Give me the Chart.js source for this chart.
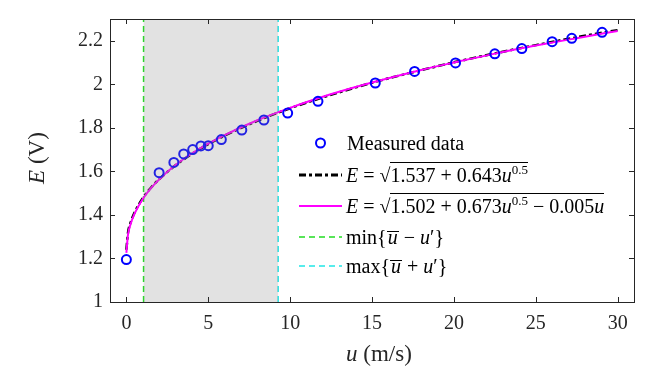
<!DOCTYPE html>
<html>
<head>
<meta charset="utf-8">
<script src="https://cdn.jsdelivr.net/npm/chart.js@4"></script>
<style>
  body { margin: 0; background: #fff; }
  #wrap { position: relative; width: 665px; height: 388px; font-family: "Liberation Serif", serif; color: #000; }
  #chart { position: absolute; left: 0; top: 0; }
  .lbl { position: absolute; white-space: nowrap; font-size: 20px; line-height: 20px; }
  .ax { position: absolute; white-space: nowrap; font-size: 23px; line-height: 23px; color: #262626; }
  .rad { border-top: 1px solid #000; padding-top: 1px; }
  .ov { display: inline-block; border-top: 1px solid #000; line-height: 11px; padding: 0 1px; }
  sup { font-size: 13px; line-height: 0; vertical-align: 8px; }
</style>
</head>
<body>
<div id="wrap">
  <canvas id="chart" width="665" height="388"></canvas>

  <div class="ax" style="left: 346px; top: 342px;"><i>u</i> (m/s)</div>
  <div class="ax" style="left: 36px; top: 158px; transform: translate(-50%, -50%) rotate(-90deg);"><i>E</i> (V)</div>

  <svg style="position:absolute; left:0; top:0;" width="665" height="388">
    <circle cx="320.5" cy="143" r="4.5" fill="none" stroke="#0000ff" stroke-width="2"/>
    <line x1="299" y1="175" x2="342" y2="175" stroke="#000" stroke-width="3" stroke-dasharray="7 3 3 3"/>
    <line x1="299" y1="206" x2="342" y2="206" stroke="#ff00ff" stroke-width="2"/>
    <line x1="299" y1="237" x2="342" y2="237" stroke="#22dd22" stroke-width="1.5" stroke-dasharray="6 4"/>
    <line x1="299" y1="266" x2="342" y2="266" stroke="#22e6e6" stroke-width="1.5" stroke-dasharray="6 4"/>
  </svg>
  <div class="lbl" style="left: 347px; top: 133px;">Measured data</div>
  <div class="lbl" style="left: 346px; top: 165px;"><i>E</i> = √<span class="rad">1.537 + 0.643<i>u</i><sup>0.5</sup></span></div>
  <div class="lbl" style="left: 346px; top: 196px;"><i>E</i> = √<span class="rad">1.502 + 0.673<i>u</i><sup>0.5</sup> − 0.005<i>u</i></span></div>
  <div class="lbl" style="left: 346px; top: 227px;">min{<i class="ov">u</i> − <i>u</i>′}</div>
  <div class="lbl" style="left: 346px; top: 256px;">max{<i class="ov">u</i> + <i>u</i>′}</div>
</div>

<script>
// measured points
const measuredU = [0, 2.0, 2.9, 3.5, 4.05, 4.55, 5.0, 5.8, 7.05, 8.4, 9.85, 11.7, 15.2, 17.6, 20.1, 22.5, 24.15, 26.0, 27.2, 29.05];
const measuredE = [1.195, 1.594, 1.641, 1.680, 1.700, 1.717, 1.718, 1.746, 1.790, 1.836, 1.868, 1.922, 2.006, 2.059, 2.098, 2.140, 2.164, 2.196, 2.211, 2.239];

const fitU = [0, 0.1, 0.25, 0.5, 1, 1.5, 2, 3, 4, 5, 6, 8, 10, 12, 15, 18, 20, 22.5, 25, 27.5, 30];
const fitE1 = [1.240, 1.319, 1.363, 1.411, 1.477, 1.525, 1.564, 1.628, 1.680, 1.725, 1.764, 1.832, 1.890, 1.940, 2.007, 2.065, 2.101, 2.142, 2.180, 2.216, 2.249];
const fitE2 = [1.226, 1.309, 1.356, 1.406, 1.473, 1.523, 1.563, 1.629, 1.682, 1.727, 1.767, 1.835, 1.892, 1.943, 2.008, 2.066, 2.100, 2.141, 2.178, 2.212, 2.245];

// fluctuation range
const uLow = 1.05;
const uHigh = 9.27;

const xTicks = [0, 5, 10, 15, 20, 25, 30];
const yTicks = [1, 1.2, 1.4, 1.6, 1.8, 2, 2.2];

const axisColor = '#262626';
const tickFont = { family: "'Liberation Serif', serif", size: 20 };

function pts(xs, ys) {
    return xs.map((x, i) => ({ x: x, y: ys[i] }));
}

const shadePlugin = {
    id: 'shade',
    afterDatasetsDraw(chart) {
        const { ctx, chartArea, scales } = chart;
        const x0 = scales.x.getPixelForValue(uLow);
        const x1 = scales.x.getPixelForValue(uHigh);
        ctx.save();
        ctx.fillStyle = 'rgba(140,140,140,0.25)';
        ctx.fillRect(x0, chartArea.top, x1 - x0, chartArea.bottom - chartArea.top);
        ctx.restore();
    }
};

// matlab style box with inward ticks
const boxPlugin = {
    id: 'box',
    afterDraw(chart) {
        const { ctx, chartArea: a, scales } = chart;
        const len = 5;
        ctx.save();
        ctx.strokeStyle = axisColor;
        ctx.lineWidth = 1;
        ctx.strokeRect(a.left + 0.5, a.top + 0.5, a.right - a.left, a.bottom - a.top);
        ctx.beginPath();
        xTicks.forEach(v => {
            const px = Math.round(scales.x.getPixelForValue(v)) + 0.5;
            ctx.moveTo(px, a.bottom); ctx.lineTo(px, a.bottom - len);
            ctx.moveTo(px, a.top); ctx.lineTo(px, a.top + len);
        });
        yTicks.forEach(v => {
            const py = Math.round(scales.y.getPixelForValue(v)) + 0.5;
            ctx.moveTo(a.left, py); ctx.lineTo(a.left + len, py);
            ctx.moveTo(a.right, py); ctx.lineTo(a.right - len, py);
        });
        ctx.stroke();
        ctx.restore();
    }
};

new Chart(document.getElementById('chart').getContext('2d'), {
    type: 'scatter',
    data: {
        datasets: [
            {
                label: 'Measured data',
                data: pts(measuredU, measuredE),
                pointStyle: 'circle',
                pointRadius: 4.5,
                pointBorderWidth: 2,
                borderColor: '#0000ff',
                backgroundColor: 'rgba(0,0,0,0)',
                order: 0
            },
            {
                label: 'fit2',
                data: pts(fitU, fitE2),
                showLine: true,
                borderColor: '#ff00ff',
                borderWidth: 2,
                pointRadius: 0,
                cubicInterpolationMode: 'monotone',
                order: 1
            },
            {
                label: 'fit1',
                data: pts(fitU, fitE1),
                showLine: true,
                borderColor: '#000',
                borderWidth: 2.5,
                borderDash: [7, 3, 3, 3],
                pointRadius: 0,
                cubicInterpolationMode: 'monotone',
                order: 2
            },
            {
                label: 'min',
                data: [{ x: uLow, y: 1 }, { x: uLow, y: 2.3 }],
                showLine: true,
                borderColor: '#22dd22',
                borderWidth: 1.5,
                borderDash: [6, 4],
                pointRadius: 0,
                order: 3
            },
            {
                label: 'max',
                data: [{ x: uHigh, y: 1 }, { x: uHigh, y: 2.3 }],
                showLine: true,
                borderColor: '#22e6e6',
                borderWidth: 1.5,
                borderDash: [6, 4],
                pointRadius: 0,
                order: 3
            }
        ]
    },
    options: {
        responsive: false,
        animation: false,
        layout: { padding: { left: 0, top: 17, right: 31, bottom: 0 } },
        plugins: {
            legend: { display: false },
            tooltip: { enabled: false }
        },
        scales: {
            x: {
                type: 'linear',
                min: -1,
                max: 31,
                afterFit: s => { s.height = 86; },
                afterBuildTicks: s => { s.ticks = xTicks.map(v => ({ value: v })); },
                grid: { display: false, drawTicks: false },
                border: { display: false },
                ticks: {
                    color: axisColor,
                    font: tickFont,
                    padding: 10,
                    maxRotation: 0,
                    callback: v => String(v)
                }
            },
            y: {
                type: 'linear',
                min: 1,
                max: 2.3,
                afterFit: s => { s.width = 110; },
                afterBuildTicks: s => { s.ticks = yTicks.map(v => ({ value: v })); },
                grid: { display: false, drawTicks: false },
                border: { display: false },
                ticks: {
                    color: axisColor,
                    font: tickFont,
                    padding: 7,
                    callback: v => String(v)
                }
            }
        }
    },
    plugins: [shadePlugin, boxPlugin]
});
</script>
</body>
</html>
